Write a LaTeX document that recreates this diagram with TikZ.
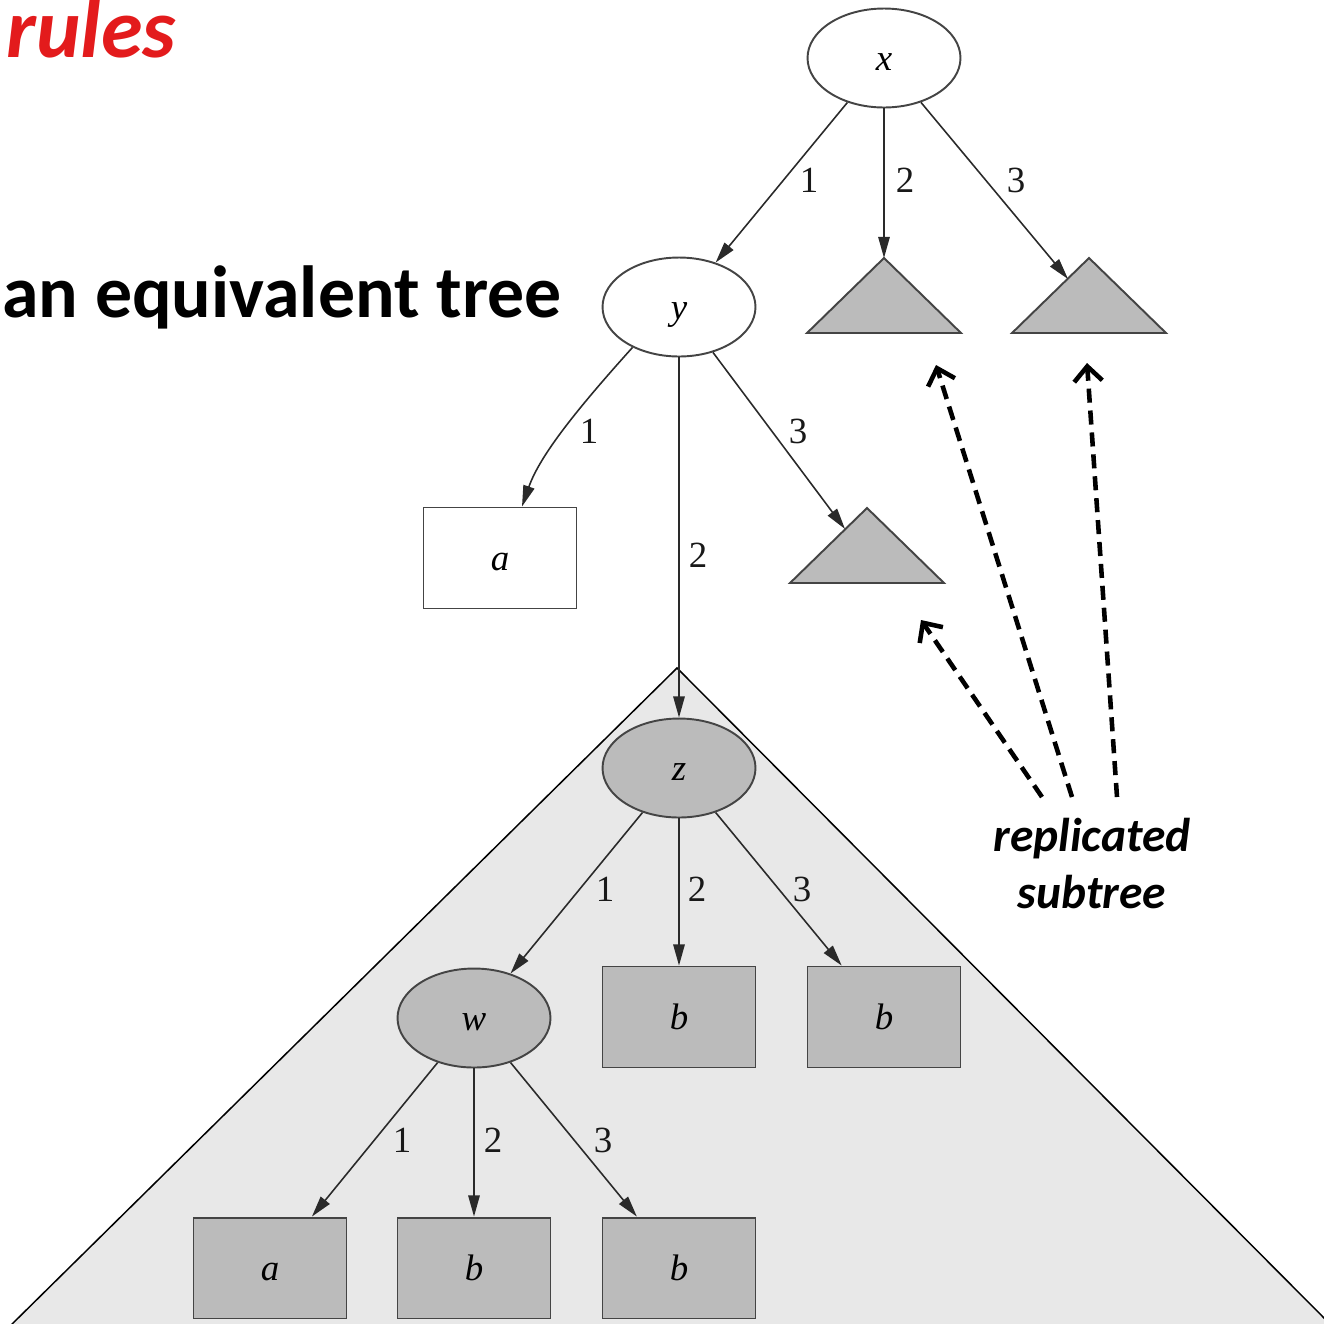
\documentclass[tikz,border=0pt]{standalone}
\usepackage{fontspec}
\setmainfont{Liberation Serif}
\newfontfamily\headfont{Carlito}
\usetikzlibrary{arrows.meta,calc,shapes.geometric}
\definecolor{nodegray}{HTML}{BBBBBB}
\definecolor{subtreebg}{HTML}{E8E8E8}
\definecolor{rimgray}{HTML}{444444}
\definecolor{edgegray}{HTML}{2A2A2A}
\definecolor{rulered}{HTML}{E31B1C}

\begin{document}
\begin{tikzpicture}[x=0.02cm,y=-0.02cm,
  vert/.style={ellipse, draw=rimgray, line width=1.1pt, minimum width=3.06cm,
    minimum height=1.98cm, inner sep=0pt, text height=14.3pt, text depth=0pt,
    font=\fontsize{21}{25}\selectfont\itshape},
  leaf/.style={rectangle, draw=rimgray, line width=1.1pt, minimum width=3.06cm,
    minimum height=2.02cm, inner sep=0pt, text height=14.3pt, text depth=0pt,
    font=\fontsize{21}{25}\selectfont\itshape},
  shaded/.style={fill=nodegray},
  plain/.style={fill=white},
  edge/.style={draw=edgegray, line width=0.9pt, -{Triangle[length=12pt,width=6.5pt]}},
  lbl/.style={font=\fontsize{21}{25}\selectfont, text=black!90, inner sep=0pt},
  subtri/.style={fill=nodegray, draw=rimgray, line width=1.1pt},
  replic/.style={draw=black, line width=2.6pt, dash pattern=on 8pt off 4.5pt,
    -{Straight Barb[length=8.5pt,width=16pt]}},
  caption/.style={font=\headfont\fontsize{27}{32}\selectfont\bfseries\itshape,
    inner sep=0pt, anchor=base},
]
\useasboundingbox (0,0) rectangle (1324,1323);
\clip (0,0) rectangle (1324,1323);

% shaded region holding the replicated subtree
\path[fill=subtreebg, draw=black, line width=0.85pt]
  (677,668) -- (6,1330) -- (1336,1330) -- cycle;

% headings
\node[font=\headfont\fontsize{48}{52}\selectfont\bfseries\itshape, text=rulered,
  inner sep=0pt, anchor=base west] (rulesText) at (6,57) {rules};
\node[font=\headfont\fontsize{42}{48}\selectfont\bfseries,
  inner sep=0pt, anchor=base west] (eqText) at (2,317) {an equivalent tree};

% tree nodes
\node[vert, plain]  (nx)  at (884,58)   {x};
\node[vert, plain]  (ny)  at (679,307)  {y};
\node[leaf, plain]  (na)  at (500,558)  {a};
\node[vert, shaded] (nz)  at (679,768)  {z};
\node[vert, shaded] (nw)  at (474,1018) {w};
\node[leaf, shaded] (nb1) at (679,1017) {b};
\node[leaf, shaded] (nb2) at (884,1017) {b};
\node[leaf, shaded] (na2) at (270,1268) {a};
\node[leaf, shaded] (nb3) at (474,1268) {b};
\node[leaf, shaded] (nb4) at (679,1268) {b};

% collapsed subtrees drawn as triangles
\coordinate (ta) at (884,258);
\coordinate (tb) at (1089,258);
\coordinate (tc) at (867,508);
\path[subtri] (ta) -- ++(-77,75) -- ++(154,0) -- cycle;
\path[subtri] (tb) -- ++(-77,75) -- ++(154,0) -- cycle;
\path[subtri] (tc) -- ++(-77,75) -- ++(154,0) -- cycle;
\coordinate (tbside) at (1068,279);
\coordinate (tcside) at (845,529);

% edges
\draw[edge] (nx) -- (ny);
\draw[edge] (nx) -- (ta);
\draw[edge] (nx) -- (tbside);
\draw[edge] (ny.221) .. controls (578,408) and (540,455) .. ($(na.north)+(22,0)$);
\draw[edge] (ny) -- (nz);
\draw[edge] (ny) -- (tcside);
\draw[edge] (nz) -- (nw);
\draw[edge] (nz) -- (nb1);
\draw[edge] (nz) -- (nb2);
\draw[edge] (nw) -- (na2);
\draw[edge] (nw) -- (nb3);
\draw[edge] (nw) -- (nb4);

% edge labels
\node[lbl] (lx1) at (809,180) {1};
\node[lbl] (lx2) at (905,180) {2};
\node[lbl] (lx3) at (1016,180) {3};
\node[lbl] (ly1) at (589,431) {1};
\node[lbl] (ly2) at (698,555) {2};
\node[lbl] (ly3) at (798,431) {3};
\node[lbl] (lz1) at (605,889) {1};
\node[lbl] (lz2) at (697,889) {2};
\node[lbl] (lz3) at (802,889) {3};
\node[lbl] (lw1) at (402,1140) {1};
\node[lbl] (lw2) at (493,1140) {2};
\node[lbl] (lw3) at (603,1140) {3};

% caption with pointers to the copies
\node[caption] (capA) at (1092,851) {replicated};
\node[caption] (capB) at (1092,908) {subtree};
\coordinate (d1s) at (1042,797);
\coordinate (d2s) at (1072,797);
\coordinate (d3s) at (1117,797);
\coordinate (d1e) at (921,620);
\coordinate (d2e) at (936,365);
\coordinate (d3e) at (1087,363);
\draw[replic] (d1s) -- (d1e);
\draw[replic] (d2s) -- (d2e);
\draw[replic] (d3s) -- (d3e);
\end{tikzpicture}
\end{document}
